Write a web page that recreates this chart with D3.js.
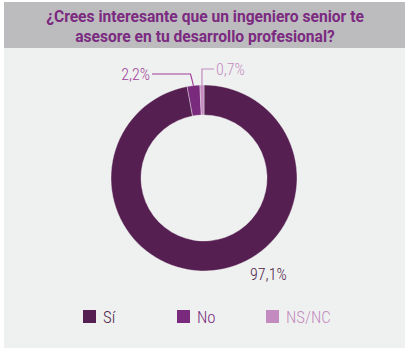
<!DOCTYPE html>
<html>
<head>
<meta charset="utf-8">
<script src="https://cdn.jsdelivr.net/npm/d3@7"></script>
<style>
html,body{margin:0;padding:0;background:#ffffff;}
svg{display:block;}
</style>
</head>
<body>
<svg id="chart" width="410" height="349"></svg>
<script>
const titleLines = ["¿Crees interesante que un ingeniero senior te", "asesore en tu desarrollo profesional?"];
const categories = ["Sí", "No", "NS/NC"];
const values = [97.1, 2.2, 0.7];
const valueLabels = ["97,1%", "2,2%", "0,7%"];
const colors = ["#561f51", "#7a2a7c", "#c38bbf"];
const labelColors = ["#4e1c49", "#a0409a", "#c38bbf"];

const svg = d3.select("#chart");
const condensed = "'Liberation Sans Narrow', 'Roboto Condensed', 'DejaVu Sans Condensed', sans-serif";

// panel
svg.append("rect").attr("x", 4).attr("y", 2).attr("width", 401).attr("height", 346).attr("fill", "#eff1f0");
svg.append("rect").attr("x", 4).attr("y", 2).attr("width", 401).attr("height", 46).attr("fill", "#bcbcbf");

svg.append("g").selectAll("text").data(titleLines).join("text")
  .attr("x", 205).attr("y", (d, i) => 22 + i * 19.5)
  .attr("text-anchor", "middle")
  .attr("font-family", "Roboto, sans-serif").attr("font-weight", 700).attr("font-size", 15.6)
  .attr("fill", "#7b2a7f").text(d => d);

const cx = 204, cy = 178, rOuter = 93, rInner = 63;
const pie = d3.pie().sort(null).value(d => d)(values);
const arc = d3.arc().innerRadius(rInner).outerRadius(rOuter);
const g = svg.append("g").attr("transform", `translate(${cx},${cy})`);
g.selectAll("path").data(pie).join("path")
  .attr("d", arc).attr("fill", (d, i) => colors[i])
  .attr("stroke", "#eff1f0").attr("stroke-width", 0.4);

// leader lines
const ang = d => (d.startAngle + d.endAngle) / 2;
const pt = (a, r) => [Math.sin(a) * r, -Math.cos(a) * r];
const pNo = pt(ang(pie[1]), rOuter);
const pNs = pt(ang(pie[2]), rOuter);
const line = d3.line();
g.append("path").attr("d", line([pNo, [pNo[0] - 3, -104], [-52, -104]]))
  .attr("fill", "none").attr("stroke", labelColors[1]).attr("stroke-width", 1.2);
g.append("path").attr("d", line([pNs, [pNs[0], -109], [pNs[0] + 12, -109]]))
  .attr("fill", "none").attr("stroke", colors[2]).attr("stroke-width", 1.2);

g.append("text").attr("x", -54).attr("y", -98).attr("text-anchor", "end")
  .attr("font-family", condensed).attr("font-weight", 300).attr("font-size", 16).attr("fill", labelColors[1]).text(valueLabels[1]);
g.append("text").attr("x", pNs[0] + 14).attr("y", -103).attr("text-anchor", "start")
  .attr("font-family", condensed).attr("font-weight", 300).attr("font-size", 16).attr("fill", labelColors[2]).text(valueLabels[2]);
g.append("text").attr("x", 46).attr("y", 102).attr("text-anchor", "start")
  .attr("font-family", condensed).attr("font-weight", 300).attr("font-size", 16).attr("fill", labelColors[0]).text(valueLabels[0]);

// legend
const legX = [83, 177, 266];
const legTextColors = ["#4e1c49", "#7a2a7c", "#c38bbf"];
const leg = svg.append("g").selectAll("g").data(categories).join("g")
  .attr("transform", (d, i) => `translate(${legX[i]},310)`);
leg.append("rect").attr("width", 13).attr("height", 13).attr("fill", (d, i) => colors[i]);
leg.append("text").attr("x", 20).attr("y", 12.7)
  .attr("font-family", condensed).attr("font-weight", 300).attr("font-size", 16.8)
  .attr("fill", (d, i) => legTextColors[i]).text(d => d);
</script>
</body>
</html>
